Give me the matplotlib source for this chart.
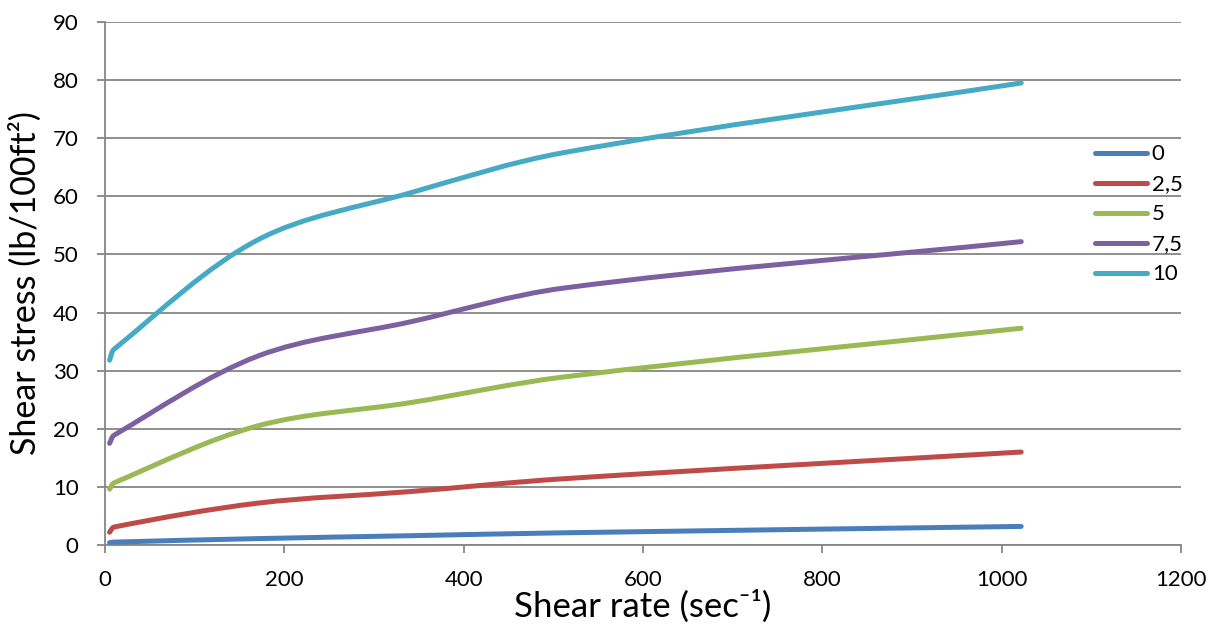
import matplotlib
matplotlib.use("Agg")
import matplotlib.pyplot as plt
import numpy as np
from matplotlib.path import Path
from matplotlib.patches import PathPatch
from matplotlib.lines import Line2D

plt.rcParams['font.family'] = ['Lato', 'DejaVu Sans']

# Fann viscometer shear rates (sec^-1) and readings for each concentration
shear_rate = [5.11, 10.22, 170.3, 340.6, 510.9, 1021.8]
stress_0 = [0.4, 0.5, 1.1, 1.6, 2.1, 3.2]
stress_2_5 = [2.2, 3.1, 7.2, 9.2, 11.4, 16.0]
stress_5 = [9.6, 10.7, 20.5, 24.5, 28.9, 37.3]
stress_7_5 = [17.5, 18.9, 32.5, 38.4, 44.2, 52.2]
stress_10 = [31.8, 33.7, 52.5, 60.6, 67.5, 79.5]

labels = ['0', '2,5', '5', '7,5', '10']
colors = ['#4A7EBB', '#BE4B48', '#98B954', '#7D60A0', '#46AAC5']
series = [stress_0, stress_2_5, stress_5, stress_7_5, stress_10]

xticks = [0, 200, 400, 600, 800, 1000, 1200]
yticks = [0, 10, 20, 30, 40, 50, 60, 70, 80, 90]


def smooth_path(x, y, sx, sy):
    # Excel-like smoothed line: cubic Bezier through the points
    P = np.column_stack([x, y]).astype(float)
    S = P * [sx, sy]
    d = np.hypot(*np.diff(S, axis=0).T)
    n = len(P)
    tang = np.zeros_like(P)
    tang[0] = (P[1] - P[0]) / d[0]
    tang[-1] = (P[-1] - P[-2]) / d[-1]
    for i in range(1, n - 1):
        tang[i] = (P[i + 1] - P[i - 1]) / (d[i - 1] + d[i])
    verts = [P[0]]
    codes = [Path.MOVETO]
    for i in range(n - 1):
        verts += [P[i] + tang[i] * d[i] / 3, P[i + 1] - tang[i + 1] * d[i] / 3, P[i + 1]]
        codes += [Path.CURVE4] * 3
    return Path(verts, codes)


fig = plt.figure(figsize=(12.18, 6.3), dpi=100)
ax = fig.add_axes([0.0862, 0.1349, 0.8834, 0.8302])

ax.set_xlim(0, 1200)
ax.set_ylim(0, 90)

sx = 1076 / 1200
sy = 523 / 90
handles = []
for vals, c, lab in zip(series, colors, labels):
    p = smooth_path(shear_rate, vals, sx, sy)
    ax.add_patch(PathPatch(p, fill=False, edgecolor=c, lw=3.6,
                           capstyle='round', joinstyle='round', zorder=3))
    handles.append(Line2D([], [], color=c, lw=3.6, solid_capstyle='round', label=lab))

grid_c = '#868686'
ax.yaxis.grid(True, color=grid_c, lw=1.3)
ax.set_axisbelow(True)
for s in ['top', 'right']:
    ax.spines[s].set_visible(False)
for s in ['left', 'bottom']:
    ax.spines[s].set_color(grid_c)
    ax.spines[s].set_linewidth(1.3)

ax.set_xticks(xticks)
ax.set_yticks(yticks)
ax.tick_params(axis='both', colors=grid_c, labelcolor='black', labelsize=16,
               length=6, width=1.3, direction='out')
ax.tick_params(axis='x', pad=12)
ax.tick_params(axis='y', pad=13)

ax.set_xlabel('Shear rate (sec⁻¹)', fontsize=25, labelpad=0)
ax.set_ylabel('Shear stress (lb/100ft²)', fontsize=24.5, labelpad=8)

ax.legend(handles=handles, loc='upper left', bbox_to_anchor=(0.912, 0.783),
          frameon=False, fontsize=16, handlelength=2.35, handletextpad=0.2,
          labelspacing=0.45, borderaxespad=0)

fig.savefig('out.png', dpi=100)
